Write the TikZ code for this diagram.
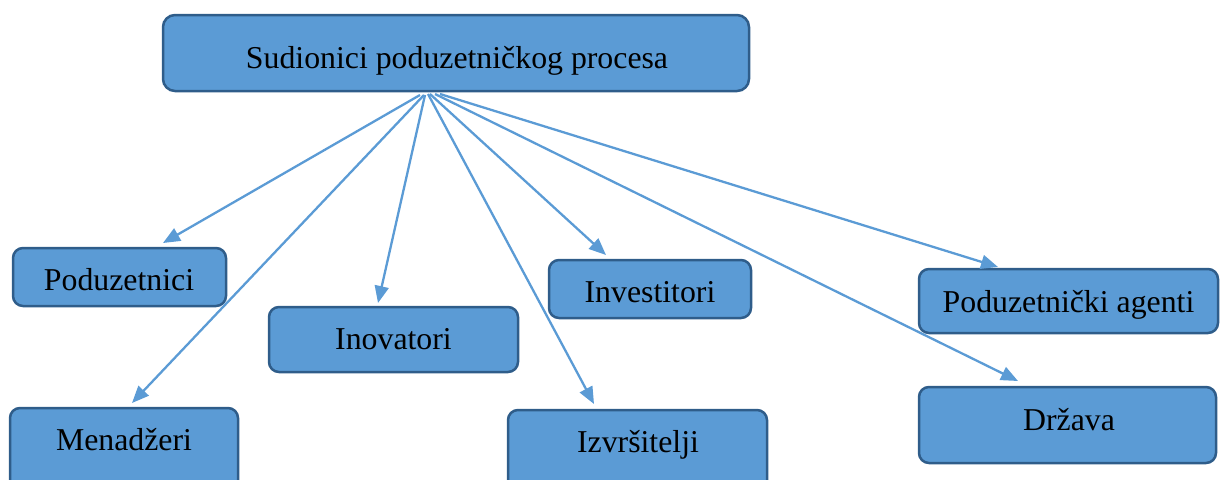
\documentclass[tikz,border=0pt]{standalone}
\usepackage{fontspec}
\setmainfont{Liberation Serif}
\usetikzlibrary{arrows.meta}
\definecolor{boxfill}{HTML}{5B9BD5}
\definecolor{boxline}{HTML}{2F5D8A}
\definecolor{arrowc}{HTML}{5B9BD5}
\begin{document}
\begin{tikzpicture}[x=1pt,y=-1pt,
  box/.style={draw=boxline, fill=boxfill, line width=2.5pt, rounded corners=10pt, inner sep=0pt},
  lbl/.style={anchor=base, inner sep=0pt, font=\fontsize{31.8}{38}\selectfont},
  conn/.style={draw=arrowc, line width=2.3pt, -{Triangle[length=17pt,width=14pt]}}]
\useasboundingbox (0,0) rectangle (1220,479);
\clip (0,0) rectangle (1220,479);
% boxes
\node[box, rounded corners=12pt, minimum width=586pt, minimum height=76pt] (top) at (456,53) {};
\node[box, minimum width=213pt, minimum height=58pt] (pod) at (119.5,277) {};
\node[box, minimum width=228pt, minimum height=92pt] (men) at (124,454) {};
\node[box, minimum width=249pt, minimum height=65pt] (ino) at (393.5,339.5) {};
\node[box, minimum width=202pt, minimum height=58pt] (inv) at (650,289) {};
\node[box, minimum width=259pt, minimum height=92pt] (izv) at (637.5,456) {};
\node[box, minimum width=299pt, minimum height=64pt] (age) at (1068.5,301) {};
\node[box, minimum width=297pt, minimum height=76pt] (drz) at (1067.5,425) {};
% labels
\node[lbl] (ttop) at (457,68) {Sudionici poduzetničkog procesa};
\node[lbl] (tpod) at (119,290) {Poduzetnici};
\node[lbl] (tmen) at (124,450) {Menadžeri};
\node[lbl] (tino) at (393.5,349) {Inovatori};
\node[lbl] (tinv) at (650,302) {Investitori};
\node[lbl] (tizv) at (638,452) {Izvršitelji};
\node[lbl] (tage) at (1068.5,312) {Poduzetnički agenti};
\node[lbl] (tdrz) at (1069,430) {Država};
% connector start points on the top box
\coordinate (s1) at (420,95);
\coordinate (s2) at (424,95);
\coordinate (s3) at (425,95);
\coordinate (s4) at (428,94);
\coordinate (s5) at (430,94);
\coordinate (s6) at (435,94);
\coordinate (s7) at (440,94);
% arrow tips
\coordinate (e1) at (163,243);
\coordinate (e2) at (132,403);
\coordinate (e3) at (378,303);
\coordinate (e4) at (594,404);
\coordinate (e5) at (606,255);
\coordinate (e6) at (1018,381);
\coordinate (e7) at (998,267);
\draw[conn] (s1) -- (e1);
\draw[conn] (s2) -- (e2);
\draw[conn] (s3) -- (e3);
\draw[conn] (s4) -- (e4);
\draw[conn] (s5) -- (e5);
\draw[conn] (s6) -- (e6);
\draw[conn] (s7) -- (e7);
\end{tikzpicture}
\end{document}
